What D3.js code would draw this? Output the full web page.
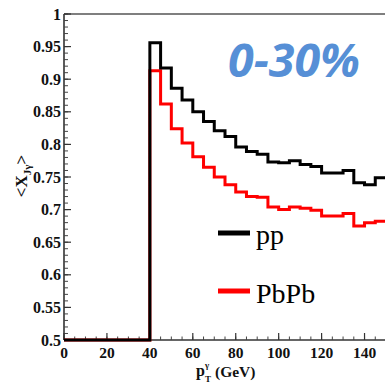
<!DOCTYPE html>
<html>
<head>
<meta charset="utf-8">
<script src="https://cdn.jsdelivr.net/npm/d3@7"></script>
<style>
  html, body { margin: 0; padding: 0; background: #fff; overflow: hidden; }
  svg { display: block; }
</style>
</head>
<body>
<svg id="chart" width="385" height="386"></svg>
<script>
// ---- data ----
const binLow = [0, 5, 10, 15, 20, 25, 30, 35, 40, 45, 50, 55, 60, 65, 70, 75, 80, 85, 90, 95,
                100, 105, 110, 115, 120, 125, 130, 135, 140, 145];
const binWidth = 5;
const ppValues = [0, 0, 0, 0, 0, 0, 0, 0,
  0.956, 0.917, 0.886, 0.868, 0.850, 0.835, 0.821, 0.812, 0.796, 0.789, 0.785, 0.773,
  0.772, 0.775, 0.769, 0.766, 0.756, 0.756, 0.760, 0.741, 0.738, 0.749];
const pbpbValues = [0, 0, 0, 0, 0, 0, 0, 0,
  0.913, 0.862, 0.824, 0.802, 0.781, 0.765, 0.750, 0.738, 0.727, 0.720, 0.719, 0.704,
  0.700, 0.704, 0.702, 0.699, 0.690, 0.690, 0.694, 0.675, 0.680, 0.682];
const seriesNames = ["pp", "PbPb"];
const seriesColors = ["#000000", "#ff0000"];
const xTicks = [0, 20, 40, 60, 80, 100, 120, 140];
const yTicks = [0.5, 0.55, 0.6, 0.65, 0.7, 0.75, 0.8, 0.85, 0.9, 0.95, 1];
const yTickLabels = ["0.5", "0.55", "0.6", "0.65", "0.7", "0.75", "0.8", "0.85", "0.9", "0.95", "1"];
const centralityLabel = "0-30%";

// ---- layout ----
const svg = d3.select("#chart");
const mLeft = 64, mRight = 386, mTop = 14, mBottom = 340;
const x = d3.scaleLinear().domain([0, 150]).range([mLeft, mRight]);
const y = d3.scaleLinear().domain([0.5, 1]).range([mBottom, mTop]).clamp(true);

svg.append("line").attr("x1", mLeft).attr("x2", 385).attr("y1", mTop).attr("y2", mTop)
  .attr("stroke", "#555").attr("stroke-width", 1.5);

const xMinor = d3.range(0, 151, 5);
const yMinor = d3.range(0, 51).map(i => 0.5 + i * 0.01);

const axG = svg.append("g");
axG.append("line").attr("x1", mLeft).attr("x2", mLeft).attr("y1", mTop).attr("y2", mBottom)
  .attr("stroke", "#333").attr("stroke-width", 1.6);
axG.append("line").attr("x1", mLeft).attr("x2", 385).attr("y1", mBottom).attr("y2", mBottom)
  .attr("stroke", "#333").attr("stroke-width", 1.4);

axG.selectAll("line.ymin").data(yMinor).enter().append("line")
  .attr("x1", mLeft).attr("x2", mLeft + 4)
  .attr("y1", d => y(d)).attr("y2", d => y(d))
  .attr("stroke", "#444").attr("stroke-width", 1);
axG.selectAll("line.ymaj").data(yTicks).enter().append("line")
  .attr("x1", mLeft).attr("x2", mLeft + 7)
  .attr("y1", d => y(d)).attr("y2", d => y(d))
  .attr("stroke", "#333").attr("stroke-width", 1.2);
axG.selectAll("line.xmin").data(xMinor).enter().append("line")
  .attr("x1", d => x(d)).attr("x2", d => x(d))
  .attr("y1", mBottom).attr("y2", mBottom - 3.5)
  .attr("stroke", "#444").attr("stroke-width", 1);
axG.selectAll("line.xmaj").data(xTicks).enter().append("line")
  .attr("x1", d => x(d)).attr("x2", d => x(d))
  .attr("y1", mBottom).attr("y2", mBottom - 7)
  .attr("stroke", "#333").attr("stroke-width", 1.2);

const tickFont = "'Liberation Serif', 'Times New Roman', serif";
axG.selectAll("text.ylab").data(yTicks).enter().append("text")
  .attr("x", mLeft - 3).attr("y", d => y(d)).attr("dy", "0.35em")
  .attr("text-anchor", "end")
  .style("font-family", tickFont).style("font-weight", "bold").style("font-size", "16px")
  .attr("fill", "#111")
  .text((d, i) => yTickLabels[i]);
axG.selectAll("text.xlab").data(xTicks).enter().append("text")
  .attr("x", d => x(d)).attr("y", 358)
  .attr("text-anchor", "middle")
  .style("font-family", tickFont).style("font-weight", "bold").style("font-size", "15.5px")
  .attr("fill", "#111")
  .text(d => d);

const yt = svg.append("text")
  .attr("transform", "translate(27,176) rotate(-90)")
  .attr("text-anchor", "middle")
  .style("font-family", tickFont).style("font-weight", "bold").style("font-size", "17px")
  .attr("fill", "#111");
yt.append("tspan").text("<X");
yt.append("tspan").attr("dy", 4).style("font-size", "11px").text("Jγ");
yt.append("tspan").attr("dy", -4).text(">");

const xt = svg.append("g").style("font-family", tickFont).style("font-weight", "bold").attr("fill", "#111");
xt.append("text").attr("x", 196).attr("y", 376).style("font-size", "16px").text("p");
xt.append("text").attr("x", 205).attr("y", 368).style("font-size", "9px").text("γ");
xt.append("text").attr("x", 205).attr("y", 382).style("font-size", "9px").text("T");
xt.append("text").attr("x", 215).attr("y", 377).style("font-size", "15.5px").text("(GeV)");

const line = d3.line().x(d => x(d[0])).y(d => y(d[1])).curve(d3.curveStepAfter);
function pts(vals) {
  const p = binLow.map((b, i) => [b, vals[i]]);
  p.push([binLow[binLow.length - 1] + binWidth, vals[vals.length - 1]]);
  return p;
}
const series = [pbpbValues, ppValues];
const colorsDraw = [seriesColors[1], seriesColors[0]];
series.forEach((vals, i) => {
  svg.append("path").attr("d", line(pts(vals)))
    .attr("fill", "none").attr("stroke", colorsDraw[i]).attr("stroke-width", 3)
    .attr("stroke-linejoin", "miter");
});

const legY = [233, 291];
const legBase = [244, 303];
seriesNames.forEach((n, i) => {
  svg.append("line").attr("x1", 218).attr("x2", 250).attr("y1", legY[i]).attr("y2", legY[i])
    .attr("stroke", seriesColors[i]).attr("stroke-width", 5);
  svg.append("text").attr("x", 256).attr("y", legBase[i])
    .style("font-family", tickFont).style("font-size", "28px").attr("fill", "#000")
    .text(n);
});

svg.append("text").attr("x", 228).attr("y", 77)
  .style("font-family", "'Open Sans', 'Liberation Sans', sans-serif")
  .style("font-weight", "bold").style("font-style", "italic").style("font-size", "46px")
  .attr("fill", "#568fd6")
  .attr("textLength", 132).attr("lengthAdjust", "spacingAndGlyphs")
  .text(centralityLabel);
</script>
</body>
</html>
